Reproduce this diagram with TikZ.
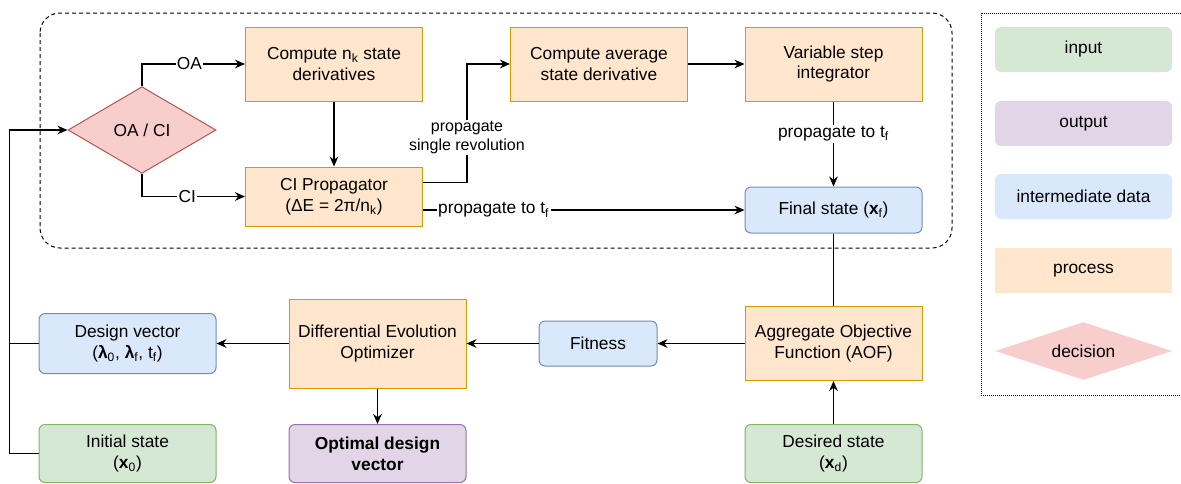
\documentclass[tikz,border=0pt]{standalone}
\usepackage{fontspec}
\setmainfont{Liberation Sans}
\usetikzlibrary{arrows.meta,positioning,shapes.geometric}
\definecolor{procfill}{HTML}{FFE6CC}
\definecolor{procline}{HTML}{D79B00}
\definecolor{datafill}{HTML}{DAE8FC}
\definecolor{dataline}{HTML}{6C8EBF}
\definecolor{infill}{HTML}{D5E8D4}
\definecolor{inline}{HTML}{82B366}
\definecolor{outfill}{HTML}{E1D5E7}
\definecolor{outline}{HTML}{9673A6}
\definecolor{decfill}{HTML}{F8CECC}
\definecolor{decline}{HTML}{B85450}
\tikzset{
  box/.style={align=center, font=\fontsize{13}{15.5}\selectfont, inner sep=2pt,
              minimum width=132.75pt, minimum height=33.75pt, line width=0.75pt},
  proc/.style={box, fill=procfill, draw=procline},
  interm/.style={box, rounded corners=4.5pt, fill=datafill, draw=dataline},
  inp/.style={box, rounded corners=4.5pt, fill=infill, draw=inline},
  outp/.style={box, rounded corners=4.5pt, fill=outfill, draw=outline},
  decis/.style={box, diamond, aspect=1.7, inner sep=0pt, fill=decfill, draw=decline},
  arr/.style={-{Stealth[length=7.5pt, width=6.5pt]}, line width=1pt},
  lbl/.style={fill=white, inner sep=1pt, font=\fontsize{13}{15.5}\selectfont},
}

\begin{document}
\begin{tikzpicture}[x=0.75pt, y=-0.75pt]
  \useasboundingbox (0,0) rectangle (1181,483);
  % propagation block
  \draw[dashed, dash pattern=on 3pt off 2.25pt, line width=0.75pt, rounded corners=15pt]
    (40,13) rectangle (952,248);
  \node[decis, minimum width=111pt, minimum height=65pt] (dec)  at (142,130) {OA / CI};
  \node[proc, minimum height=55.5pt]  (nk)   at (334,64)    {Compute n\textsubscript{k} state\\derivatives};
  \node[proc, minimum height=44.25pt] (cip)  at (334,196.5) {CI Propagator\\(ΔE = 2π/n\textsubscript{k})};
  \node[proc, minimum height=55.5pt]  (avg)  at (599,64)    {Compute average\\state derivative};
  \node[proc, minimum height=55.5pt]  (vsi)  at (833.5,64)  {Variable step\\integrator};
  \node[interm, minimum height=34.5pt] (fin) at (833.5,210) {Final state (\textbf{x}\textsubscript{f})};
  % optimizer loop
  \node[interm, minimum height=45pt]   (dv)   at (127.5,343.5) {Design vector\\(\textbf{λ}\textsubscript{0}, \textbf{λ}\textsubscript{f}, t\textsubscript{f})};
  \node[proc, minimum height=66.75pt]  (deo)  at (377.5,343.5) {Differential Evolution\\Optimizer};
  \node[interm, minimum width=88.5pt]  (fit)  at (598,343.5)   {Fitness};
  \node[proc, minimum height=55.5pt]   (aof)  at (833.5,343.5) {Aggregate Objective\\Function (AOF)};
  \node[inp, minimum height=43.5pt]    (init) at (127.5,453.5) {Initial state\\(\textbf{x}\textsubscript{0})};
  \node[outp, minimum height=43.5pt, font=\fontsize{13}{15.5}\selectfont\bfseries] (opt) at (377.5,453.5) {Optimal design\\vector};
  \node[inp, minimum height=43.5pt]    (des)  at (833.5,453.5) {Desired state\\(\textbf{x}\textsubscript{d})};

  \draw[arr] (dec.north) |- node[lbl, pos=0.73] {OA} (nk.west);
  \draw[arr] (dec.south) |- node[lbl, pos=0.72] {CI} (cip.west);
  \draw[arr] (nk) -- (cip);
  \draw[arr] ([yshift=10.5pt]cip.east) -- ++(44,0) |-
    node[lbl, pos=0.19, align=center, font=\fontsize{12}{14}\selectfont] {propagate\\single revolution} (avg.west);
  \draw[arr] (cip.east |- fin.west) -- node[lbl, pos=0.22] {propagate to t\textsubscript{f}} (fin.west);
  \draw[arr] (avg) -- (vsi);
  \draw[arr] (vsi) -- node[lbl, pos=0.38] {propagate to t\textsubscript{f}} (fin);
  \draw[line width=1pt] (fin) -- (aof);
  \draw[arr] (aof) -- (fit);
  \draw[arr] (fit) -- (deo);
  \draw[arr] (deo) -- (dv);
  \draw[arr] (deo) -- (opt);
  \draw[arr] (des) -- (aof);
  \draw[line width=1pt] (dv.west) -- ++(-29,0);
  \draw[arr] (init.west) -- ++(-29,0) |- (dec.west);

  % legend
  \draw[line width=0.75pt, dash pattern=on 0.75pt off 0.75pt]
    (1181,13) -- (981,13) -- (981,395) -- (1181,395);
  \node[inp, draw=none]    (lgin)   at (1083.5,49.5)  {input};
  \node[outp, draw=none]   (lgout)  at (1083.5,123.5) {output};
  \node[interm, draw=none] (lgdata) at (1083.5,196.5) {intermediate data};
  \node[proc, draw=none]   (lgproc) at (1083.5,270.5) {process};
  \node[decis, draw=none, minimum width=132.75pt, minimum height=43.5pt] (lgdec) at (1083.5,351) {decision};
\end{tikzpicture}
\end{document}
